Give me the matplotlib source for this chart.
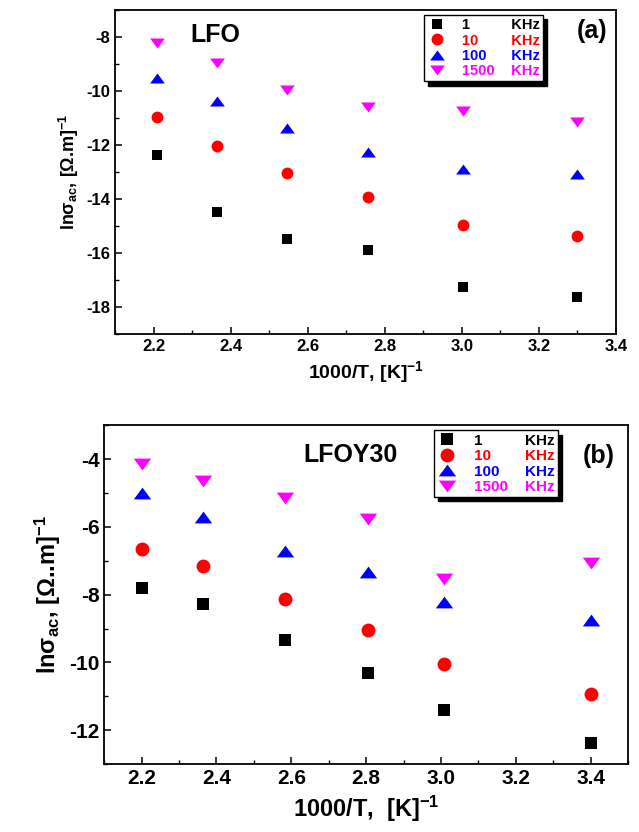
import matplotlib
matplotlib.use("Agg")
from matplotlib import pyplot as plt
from matplotlib.ticker import MultipleLocator, FormatStrFormatter

plt.rcParams['font.family'] = ['Liberation Sans', 'DejaVu Sans']
plt.rcParams['font.weight'] = 'bold'
plt.rcParams['axes.unicode_minus'] = False
plt.rcParams['mathtext.fontset'] = 'custom'
plt.rcParams['mathtext.rm'] = 'Liberation Sans:bold'
plt.rcParams['mathtext.bf'] = 'Liberation Sans:bold'
plt.rcParams['mathtext.it'] = 'Liberation Sans:bold'
plt.rcParams['mathtext.default'] = 'bf'

#----------------- Données (a) LFO -----------------#
x_lfo = [2.208, 2.364, 2.546, 2.756, 3.003, 3.300]
lfo_1k = [-12.37, -14.48, -15.48, -15.88, -17.25, -17.64]
lfo_10k = [-10.94, -12.04, -13.04, -13.91, -14.95, -15.35]
lfo_100k = [-9.50, -10.36, -11.36, -12.25, -12.90, -13.06]
lfo_1500k = [-8.22, -8.96, -9.97, -10.59, -10.75, -11.15]

#----------------- Données (b) LFOY30 -----------------#
x_lfoy = [2.200, 2.364, 2.583, 2.804, 3.008, 3.400]
lfoy_1k = [-7.80, -8.26, -9.35, -10.30, -11.39, -12.37]
lfoy_10k = [-6.64, -7.14, -8.14, -9.04, -10.04, -10.94]
lfoy_100k = [-5.01, -5.70, -6.71, -7.34, -8.22, -8.74]
lfoy_1500k = [-4.15, -4.65, -5.13, -5.77, -7.53, -7.06]

freqs = ['1', '10', '100', '1500']
colors = ['black', 'red', 'blue', 'magenta']

# triangles un peu aplatis (plus larges que hauts)
tri_up = [(-1, -0.68), (1, -0.68), (0, 0.68), (-1, -0.68)]
tri_down = [(-1, 0.68), (1, 0.68), (0, -0.68), (-1, 0.68)]
markers = ['s', 'o', tri_up, tri_down]
size_scale = [0.85, 1.0, 1.25, 1.25]


def legend_labels():
    # un chiffre = 2 espaces en Liberation Sans, donc "KHz" reste aligné
    width = max(len(f) for f in freqs)
    return [f + ' ' * (2 * (width - len(f)) + 4) + 'KHz' for f in freqs]


def draw_panel(ax, x, series, msize, fs_tick, fs_label, ylabel, xlabel,
               name, name_xy, tag, tag_xy, leg_anchor, leg_fs):
    handles = []
    for y, c, m, k in zip(series, colors, markers, size_scale):
        h, = ax.plot(x, y, linestyle='none', marker=m, color=c,
                     markersize=msize * k, markeredgewidth=0)
        handles.append(h)

    for side in ['top', 'right', 'bottom', 'left']:
        ax.spines[side].set_linewidth(1.3)
    ax.tick_params(axis='both', which='major', direction='in', length=5,
                   width=1.1, labelsize=fs_tick, top=False, right=False)
    ax.tick_params(axis='both', which='minor', direction='in', length=3,
                   width=1.0, top=False, right=False)
    ax.xaxis.set_major_locator(MultipleLocator(0.2))
    ax.xaxis.set_minor_locator(MultipleLocator(0.1))
    ax.yaxis.set_major_locator(MultipleLocator(2))
    ax.yaxis.set_minor_locator(MultipleLocator(1))
    ax.xaxis.set_major_formatter(FormatStrFormatter('%.1f'))
    for lab in ax.get_xticklabels() + ax.get_yticklabels():
        lab.set_fontweight('bold')

    ax.set_xlabel(xlabel, fontsize=fs_label[0], fontweight='bold')
    ax.set_ylabel(ylabel, fontsize=fs_label[1], fontweight='bold')

    ax.text(name_xy[0], name_xy[1], name, transform=ax.transAxes,
            fontsize=18, fontweight='bold', ha='left', va='center')
    ax.text(tag_xy[0], tag_xy[1], tag, transform=ax.transAxes,
            fontsize=18, fontweight='bold', ha='center', va='center')

    # légende encadrée avec ombre noire décalée
    leg = ax.legend(handles, legend_labels(), loc='upper left',
                    bbox_to_anchor=leg_anchor, borderaxespad=0,
                    fontsize=leg_fs, frameon=True, fancybox=False,
                    edgecolor='black', framealpha=1, handlelength=1.3,
                    handletextpad=1.1, labelspacing=0.1, borderpad=0.2,
                    shadow={'color': 'black', 'alpha': 1, 'ox': 3, 'oy': -3})
    leg.get_frame().set_linewidth(1.0)
    for t, c in zip(leg.get_texts(), colors):
        t.set_color(c)
        t.set_fontweight('bold')
    return leg


fig = plt.figure(figsize=(6.39, 8.32), dpi=100)

ax1 = fig.add_axes([0.180, 0.5986, 0.784, 0.389])
ax1.set_xlim(2.1, 3.4)
ax1.set_ylim(-19, -7)
draw_panel(ax1, x_lfo, [lfo_1k, lfo_10k, lfo_100k, lfo_1500k], 8.5, 12,
           (14, 13),
           r'ln$\sigma_{ac}$, [Ω.m]$^{-1}$', r'1000/T, [K]$^{-1}$',
           'LFO', (0.150, 0.923), '(a)', (0.952, 0.935),
           (0.617, 0.985), 10.5)

ax2 = fig.add_axes([0.163, 0.0817, 0.820, 0.407])
ax2.set_xlim(2.1, 3.5)
ax2.set_ylim(-13, -3)
draw_panel(ax2, x_lfoy, [lfoy_1k, lfoy_10k, lfoy_100k, lfoy_1500k], 10, 15,
           (17, 17),
           r'ln$\sigma_{ac}$, [Ω..m]$^{-1}$', r'1000/T,  [K]$^{-1}$',
           'LFOY30', (0.380, 0.914), '(b)', (0.943, 0.909),
           (0.630, 0.985), 11)

fig.savefig('out.png', dpi=100)
